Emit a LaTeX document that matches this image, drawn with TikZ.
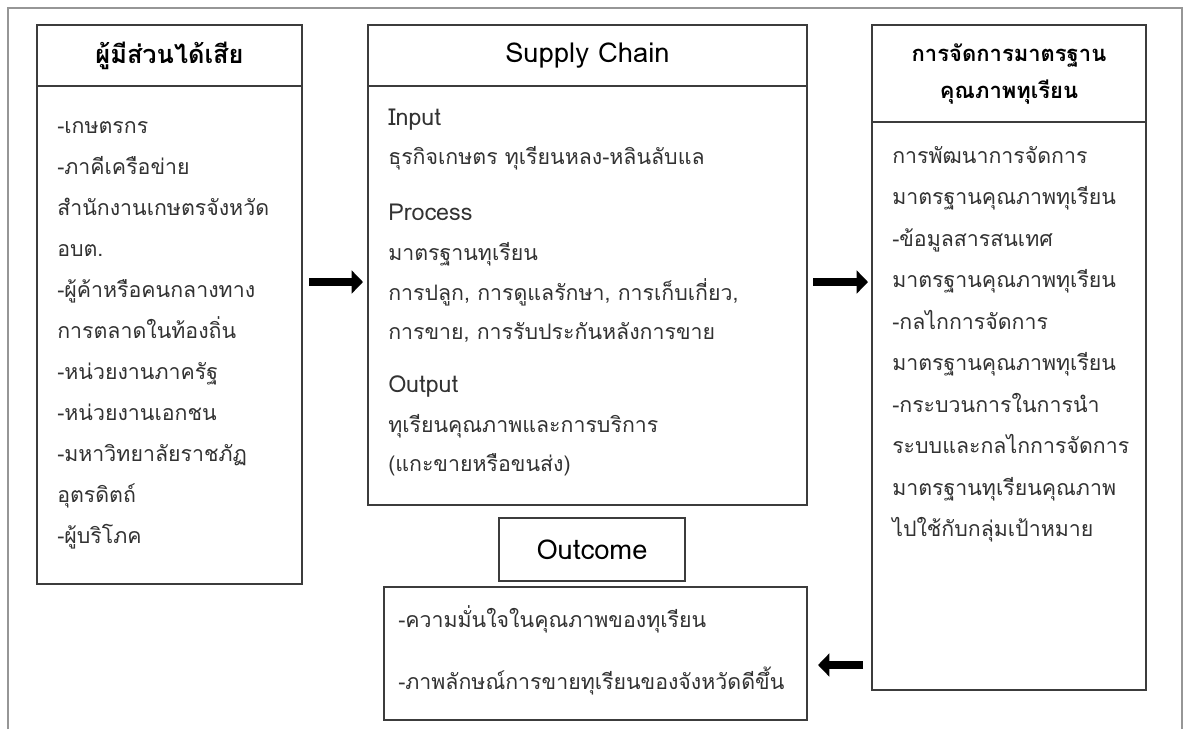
\documentclass[tikz,border=0pt]{standalone}
\usepackage{fontspec}
\usepackage{tikz}
\usetikzlibrary{arrows.meta}
\setmainfont[Script=Thai]{Loma}
\definecolor{framegray}{RGB}{150,150,150}
\definecolor{boxgray}{RGB}{60,60,60}
\definecolor{txtgray}{RGB}{50,50,50}

\tikzset{
	box/.style={rectangle, draw=boxgray, line width=0.9pt, inner sep=0pt},
	txt/.style={anchor=base west, inner sep=0pt, text=txtgray, font=\fontsize{16}{19}\selectfont},
	thai/.style={},
	lat/.style={font=\fontsize{17.5}{20}\selectfont},
	headtxt/.style={font=\fontsize{16.5}{27.75}\selectfont\bfseries, align=center},
	headlat/.style={font=\fontsize{20.5}{24}\selectfont},
	fat/.style={line width=6.5pt, -{Triangle[length=8.5pt,width=17pt]}}
}

\begin{document}
\begin{tikzpicture}
		[x=0.75pt, y=-0.75pt]
		\useasboundingbox (0,0) rectangle (1184,729);
		\draw[framegray, line width=0.8pt] (8,729) -- (8,8) -- (1182,8) -- (1182,729);
		
		% boxes
		\node [box, headtxt, font=\fontsize{19}{22}\selectfont\bfseries, minimum width=198.75pt, minimum height=45.75pt](stakehead) at (169.5,55.5) {ผู้มีส่วนได้เสีย};
		\node [box, minimum width=198.75pt, minimum height=373.5pt](stakebody) at (169.5,335) {};
		\node [box, headlat, minimum width=329.25pt, minimum height=45.75pt](chainhead) at (587.5,55.5) {Supply Chain};
		\node [box, minimum width=329.25pt, minimum height=314.25pt](chainbody) at (587.5,295.5) {};
		\node [box, headtxt, minimum width=205.5pt, minimum height=72.75pt](stdhead) at (1009,73.5) {การจัดการมาตรฐาน\\คุณภาพทุเรียน};
		\node [box, minimum width=205.5pt, minimum height=426pt](stdbody) at (1009,406) {};
		\node [box, headlat, minimum width=139.5pt, minimum height=47.25pt](outhead) at (592,549.5) {Outcome};
		\node [box, minimum width=317.25pt, minimum height=99.75pt](outbody) at (595.5,653.5) {};
		
		% stakeholder lines
		\foreach \t [count=\i] in {-เกษตรกร, -ภาคีเครือข่าย, สำนักงานเกษตรจังหวัด, อบต., -ผู้ค้าหรือคนกลางทาง, การตลาดในท้องถิ่น, -หน่วยงานภาครัฐ, -หน่วยงานเอกชน, -มหาวิทยาลัยราชภัฏ, อุตรดิตถ์, -ผู้บริโภค}
		\node [txt](st\i) at (57, 92+41*\i) {\t};
		
		% supply chain lines
		\foreach \t/\y/\s [count=\i] in {Input/125/lat, ธุรกิจเกษตร ทุเรียนหลง-หลินลับแล/164/thai, Process/220/lat, มาตรฐานทุเรียน/260/thai, {การปลูก, การดูแลรักษา, การเก็บเกี่ยว,}/300/thai, {การขาย, การรับประกันหลังการขาย}/339/thai, Output/392/lat, ทุเรียนคุณภาพและการบริการ/432/thai, (แกะขายหรือขนส่ง)/471/thai}
		\node [txt, \s](ch\i) at (388, \y) {\t};
		
		% standard lines
		\foreach \t [count=\i] in {การพัฒนาการจัดการ, มาตรฐานคุณภาพทุเรียน, -ข้อมูลสารสนเทศ, มาตรฐานคุณภาพทุเรียน, -กลไกการจัดการ, มาตรฐานคุณภาพทุเรียน, -กระบวนการในการนำ, ระบบและกลไกการจัดการ, มาตรฐานทุเรียนคุณภาพ, ไปใช้กับกลุ่มเป้าหมาย}
		\node [txt](sd\i) at (892, 121.5+41.5*\i) {\t};
		
		% outcome lines
		\node [txt](oc1) at (398,627) {-ความมั่นใจในคุณภาพของทุเรียน};
		\node [txt](oc2) at (398,689) {-ภาพลักษณ์การขายทุเรียนของจังหวัดดีขึ้น};
		
		% arrows
		\coordinate (a1) at (309,282);
		\coordinate (b1) at (363,282);
		\coordinate (a2) at (813,282);
		\coordinate (b2) at (868,282);
		\coordinate (a3) at (863,665);
		\coordinate (b3) at (818,665);
		\draw [fat] (a1) -- (b1);
		\draw [fat] (a2) -- (b2);
		\draw [fat] (a3) -- (b3);
\end{tikzpicture}
\end{document}
